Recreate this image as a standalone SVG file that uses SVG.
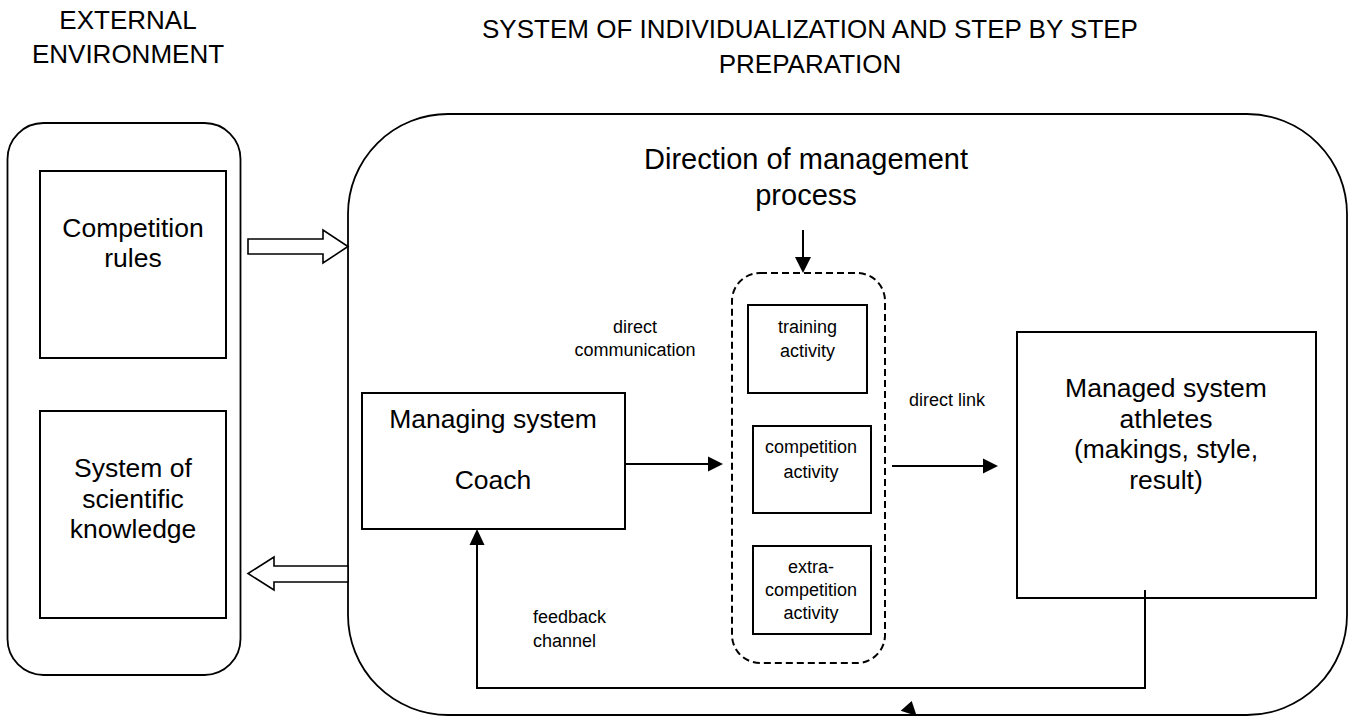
<svg xmlns="http://www.w3.org/2000/svg" width="1352" height="717" viewBox="0 0 1352 717">
<style>
  text { font-family: "Liberation Sans", Arial, sans-serif; fill: #000; text-anchor: middle; }
  .hdr { font-size: 26px; }
  .big { font-size: 26.5px; }
  .dir { font-size: 29px; }
  .sm { font-size: 18px; }
  .box { fill: #fff; stroke: #000; stroke-width: 2; }
  .rnd { fill: #fff; stroke: #000; stroke-width: 1.8; }
  .dash { fill: none; stroke: #000; stroke-width: 2; stroke-dasharray: 7 4; }
  .ln { fill: none; stroke: #000; stroke-width: 2; }
  .blk { fill: #fff; stroke: #000; stroke-width: 1.6; stroke-linejoin: miter; }
  .head { fill: #000; stroke: none; }
</style>

<g id="title-external">
  <text class="hdr" x="128" y="29">EXTERNAL</text>
  <text class="hdr" x="128" y="63">ENVIRONMENT</text>
</g>
<g id="title-system">
  <text class="hdr" x="810" y="38">SYSTEM OF INDIVIDUALIZATION AND STEP BY STEP</text>
  <text class="hdr" x="810" y="73">PREPARATION</text>
</g>

<g id="external-environment">
  <rect class="rnd" x="7.5" y="123" width="233" height="552" rx="36" ry="36"/>
</g>
<g id="competition-rules">
  <rect class="box" x="40" y="171" width="186" height="187"/>
  <text class="big" x="133" y="237">Competition</text>
  <text class="big" x="133" y="267">rules</text>
</g>
<g id="scientific-knowledge">
  <rect class="box" x="40" y="411" width="186" height="207"/>
  <text class="big" x="133" y="477">System of</text>
  <text class="big" x="133" y="508">scientific</text>
  <text class="big" x="133" y="538">knowledge</text>
</g>

<g id="system-individualization">
  <rect class="rnd" x="348" y="114" width="999" height="601" rx="100" ry="100"/>
</g>

<g id="direction-label">
  <text class="dir" x="806" y="169">Direction of management</text>
  <text class="dir" x="806" y="205">process</text>
</g>

<g id="activities-group">
  <rect class="dash" x="732" y="273" width="153" height="390" rx="28" ry="28"/>
</g>
<g id="training-activity">
  <rect class="box" x="748" y="305" width="119" height="88"/>
  <text class="sm" x="807.5" y="333">training</text>
  <text class="sm" x="807.5" y="357">activity</text>
</g>
<g id="competition-activity">
  <rect class="box" x="753" y="426" width="118" height="87"/>
  <text class="sm" x="811" y="453">competition</text>
  <text class="sm" x="811" y="478">activity</text>
</g>
<g id="extra-competition-activity">
  <rect class="box" x="753" y="546" width="118" height="88"/>
  <text class="sm" x="811" y="573">extra-</text>
  <text class="sm" x="811" y="596">competition</text>
  <text class="sm" x="811" y="619">activity</text>
</g>

<g id="managing-system">
  <rect class="box" x="362" y="393" width="263" height="136"/>
  <text class="big" x="493" y="428">Managing system</text>
  <text class="big" x="493" y="489">Coach</text>
</g>

<g id="managed-system">
  <rect class="box" x="1017" y="332" width="299" height="266"/>
  <text class="big" x="1166" y="397">Managed system</text>
  <text class="big" x="1166" y="428">athletes</text>
  <text class="big" x="1166" y="458">(makings, style,</text>
  <text class="big" x="1166" y="489">result)</text>
</g>

<g id="connectors">
  <polygon class="blk" points="248,239 323,239 323,230 348,246.5 323,263 323,254 248,254"/>
  <polygon class="blk" points="348,566 274,566 274,557 248,573.5 274,590 274,582 348,582"/>

  <line class="ln" x1="803" y1="230" x2="803" y2="258"/>
  <polygon class="head" points="795,257 811,257 803,273"/>

  <line class="ln" x1="625" y1="464" x2="709" y2="464"/>
  <polygon class="head" points="708,456.5 708,471.5 723,464"/>

  <line class="ln" x1="892" y1="466" x2="984" y2="466"/>
  <polygon class="head" points="983,458.5 983,473.5 998,466"/>

  <polyline class="ln" points="1145,590 1145,688 477,688 477,544"/>
  <polygon class="head" points="469.5,545 484.5,545 477,529"/>

  <polygon class="head" points="911.7,701 900.7,710.7 916.7,716"/>

  <text class="sm" x="635" y="333">direct</text>
  <text class="sm" x="635" y="356">communication</text>
  <text class="sm" x="947" y="406">direct link</text>
  <text class="sm" x="533" y="623" style="text-anchor:start">feedback</text>
  <text class="sm" x="533" y="647" style="text-anchor:start">channel</text>
</g>
</svg>
